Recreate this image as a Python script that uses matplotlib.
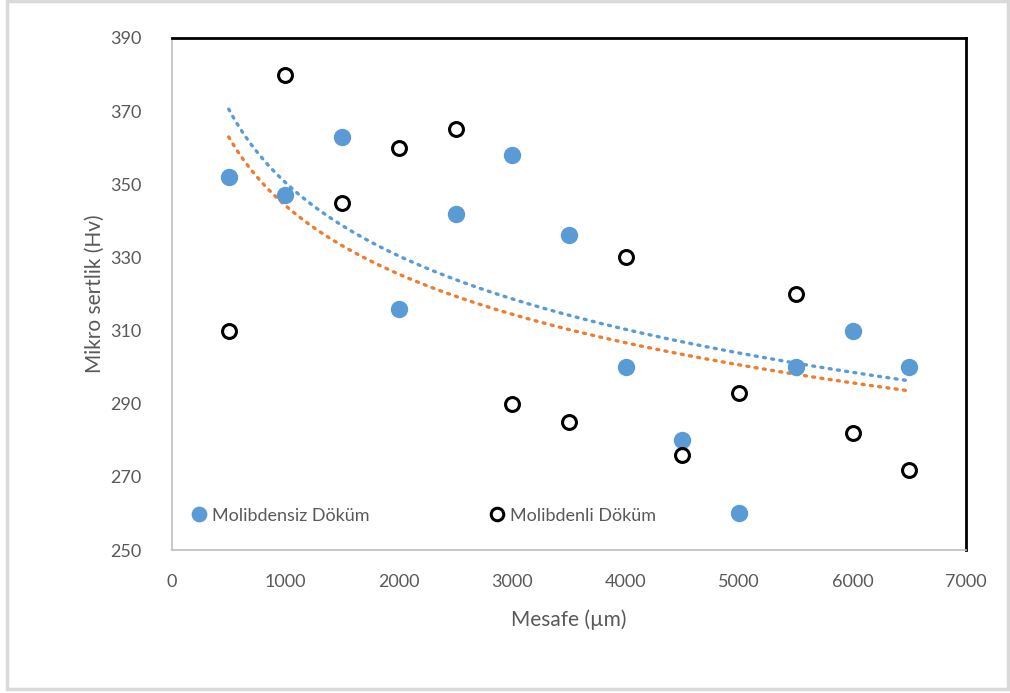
import numpy as np
import matplotlib
matplotlib.use("Agg")
import matplotlib.pyplot as plt
from matplotlib.patches import Rectangle

plt.rcParams['font.family'] = ['Lato', 'DejaVu Sans']

# mesafe (um) ve mikro sertlik degerleri
mesafe = [500, 1000, 1500, 2000, 2500, 3000, 3500, 4000, 4500, 5000, 5500, 6000, 6500]
molibdensiz = [352, 347, 363, 316, 342, 358, 336, 300, 280, 260, 300, 310, 300]
molibdenli = [310, 380, 345, 360, 365, 290, 285, 330, 276, 293, 320, 282, 272]

blue = '#5B9BD5'
orange = '#ED7D31'
gray = '#595959'

fig = plt.figure(figsize=(10.1, 6.93), dpi=100)
ax = fig.add_axes([0.1703, 0.2063, 0.7861, 0.7389])

x = np.array(mesafe, dtype=float)

# logaritmik egilim cizgileri
xs = np.linspace(x.min(), x.max(), 200)
for ys, c in [(molibdensiz, blue), (molibdenli, orange)]:
    b, a = np.polyfit(np.log(x), np.array(ys, dtype=float), 1)
    ax.plot(xs, a + b * np.log(xs), color=c, lw=2.4, ls=(0, (0.6, 1.9)),
            dash_capstyle='round', zorder=2)

ax.plot(mesafe, molibdensiz, 'o', ms=11.5, color=blue, mec=blue,
        label='Molibdensiz Döküm', zorder=3)
ax.plot(mesafe, molibdenli, 'o', ms=10, mfc='none', mec='black', mew=2.2,
        label='Molibdenli Döküm', zorder=3)

ax.set_xlim(0, 7000)
ax.set_ylim(250, 390)
ax.set_xticks(range(0, 7001, 1000))
ax.set_yticks(range(250, 391, 20))
ax.tick_params(length=0, labelsize=13, labelcolor=gray)
ax.tick_params(axis='x', pad=17)
ax.tick_params(axis='y', pad=22)

for s in ['left', 'bottom']:
    ax.spines[s].set_color('#BFBFBF')
    ax.spines[s].set_linewidth(1.2)
for s in ['top', 'right']:
    ax.spines[s].set_color('black')
    ax.spines[s].set_linewidth(2)

ax.set_xlabel('Mesafe (µm)', fontsize=15, color=gray, labelpad=14)
ax.set_ylabel('Mikro sertlik (Hv)', fontsize=15, color=gray, labelpad=4)

leg = ax.legend(loc='lower left', bbox_to_anchor=(0.0, 0.02), ncol=2,
                frameon=False, fontsize=13, handletextpad=0.1,
                columnspacing=6.5, markerscale=0.9, handlelength=1.2)
for t in leg.get_texts():
    t.set_color(gray)

# dis cerceve
fig.patches.append(Rectangle((0.007, 0.006), 0.991, 0.992, transform=fig.transFigure,
                             fill=False, ec='#D9D9D9', lw=2.5))

fig.savefig('out.png', dpi=100)
